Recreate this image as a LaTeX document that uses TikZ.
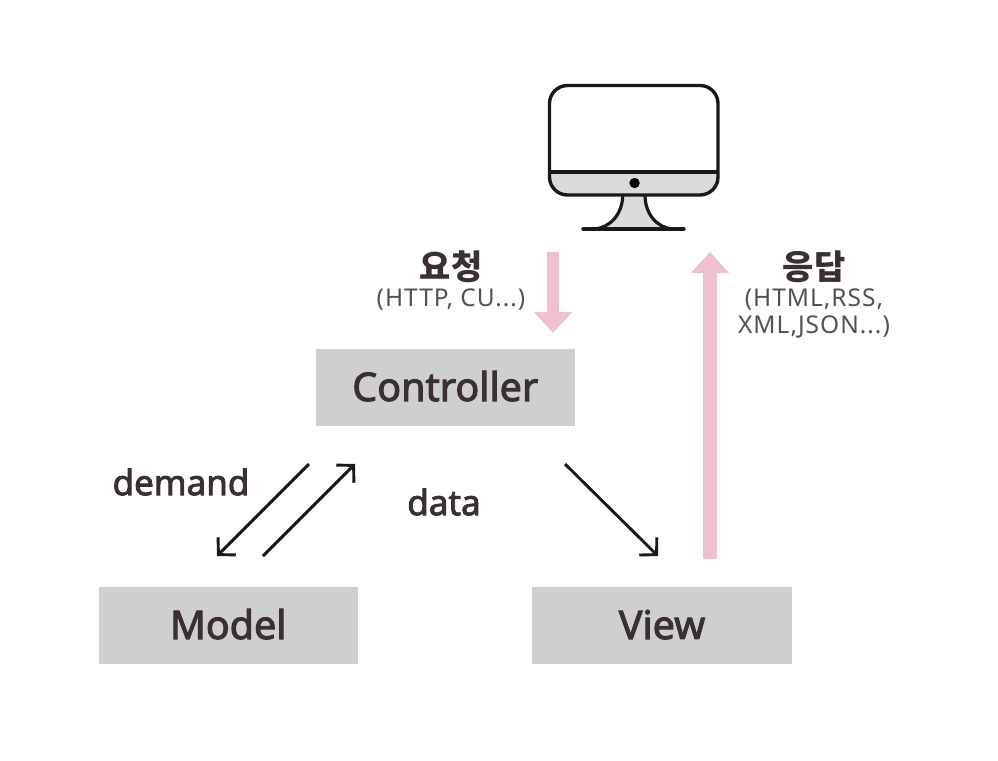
\documentclass[tikz,border=0pt]{standalone}
\usepackage{fontspec}
\setmainfont{Noto Sans}
\newfontfamily\kofont{Noto Sans CJK KR}
\newfontfamily\mediumfont[FakeBold=2.5]{Noto Sans}
\newfontfamily\notefont[LetterSpace=4]{Noto Sans}
\usetikzlibrary{arrows.meta}
\definecolor{boxgray}{HTML}{CFCFCF}
\definecolor{screengray}{HTML}{DADCDB}
\definecolor{arrowpink}{HTML}{EFC1D0}
\definecolor{inktext}{HTML}{3A3032}
\definecolor{smalltext}{HTML}{555052}
\tikzset{
    mvcbox/.style={fill=boxgray, minimum width=259.5pt, minimum height=77pt, inner sep=0pt, text height=30pt, text depth=3pt, text=inktext, font=\mediumfont\fontsize{39.5}{39.5}\selectfont},
    flowlabel/.style={text=inktext, inner sep=0pt, font=\mediumfont\fontsize{35}{35}\selectfont},
    titlelabel/.style={text=inktext, inner sep=0pt, font=\kofont\bfseries\fontsize{34}{34}\selectfont},
    notelabel/.style={text=smalltext, inner sep=0pt, align=center, font=\notefont\fontsize{24.5}{27}\selectfont},
    flowarrow/.style={draw=black!90, line width=2.9pt, -{Straight Barb[length=12pt,width=25pt,line width=2.9pt]}},
    pinkarrow/.style={draw=arrowpink, -{Triangle[length=21pt,width=37pt]}}
}
\begin{document}
\begin{tikzpicture}[x=1pt, y=-1pt]
    \useasboundingbox (0,0) rectangle (998,760);

    \fill[screengray] (549,172) -- (718,172) [rounded corners=18pt] -- (718,195) -- (549,195) [sharp corners] -- cycle;
    \draw[fill=screengray, line width=3.2pt, draw=black!90] (622.7,195) .. controls (622.7,214) and (610,228) .. (594,229) -- (673,229) .. controls (657,228) and (645,214) .. (645,195);
    \draw[line width=3.4pt, black!90, line cap=round] (583,229) -- (684,229);
    \draw[line width=3.4pt, black!90, rounded corners=18pt] (549.5,85.5) rectangle (718,195);
    \draw[line width=3.4pt, black!90] (549.5,172) -- (718,172);
    \fill[black] (634.5,183) circle[radius=5.2];

    \node[mvcbox] (controller) at (445.25,387.5) {Controller};
    \node[mvcbox] (model) at (228.25,625.5) {Model};
    \node[mvcbox] (view) at (662,625.5) {View};

    \coordinate (monitorin) at (553,252);
    \coordinate (monitorout) at (710,252);
    \coordinate (viewout) at (710,559);
    \coordinate (controllerin) at (553,333);
    \coordinate (demandfrom) at (309,464);
    \coordinate (demandto) at (217,556);
    \coordinate (returnfrom) at (263,556);
    \coordinate (returnto) at (355,464);
    \coordinate (datafrom) at (565,464);
    \coordinate (datato) at (658,556);

    \draw[pinkarrow, line width=12pt] (monitorin) -- (controllerin);
    \draw[pinkarrow, line width=14pt] (viewout) -- (monitorout);
    \draw[flowarrow] (demandfrom) -- (demandto);
    \draw[flowarrow] (returnfrom) -- (returnto);
    \draw[flowarrow] (datafrom) -- (datato);

    \node[titlelabel] (request) at (451,267) {요청};
    \node[notelabel] (requestnote) at (451,300) {(HTTP, CU...)};
    \node[titlelabel] (response) at (814,267) {응답};
    \node[notelabel] (responsenote) at (814,313) {(HTML,RSS,\\XML,JSON...)};
    \node[flowlabel] (demand) at (181,482) {demand};
    \node[flowlabel] (data) at (444,502) {data};
\end{tikzpicture}
\end{document}
